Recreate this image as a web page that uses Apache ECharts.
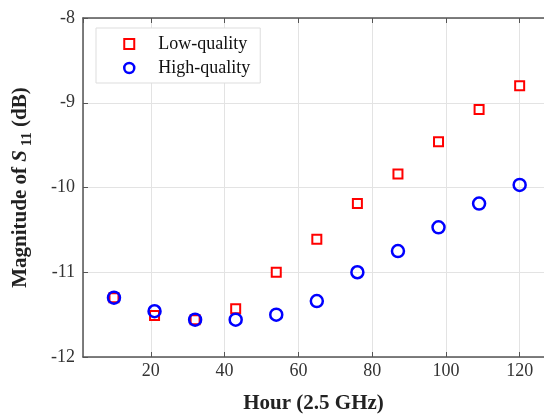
<!DOCTYPE html>
<html>
<head>
<meta charset="utf-8">
<script src="https://cdn.jsdelivr.net/npm/echarts@6/dist/echarts.min.js"></script>
<style>html,body{margin:0;padding:0;background:#fff}#c{width:544px;height:419px}</style>
</head>
<body>
<div id="c"></div>
<script>
var hours = [10, 21, 32, 43, 54, 65, 76, 87, 98, 109, 120];
var lowQuality = [-11.30, -11.51, -11.56, -11.43, -11.00, -10.61, -10.19, -9.84, -9.46, -9.08, -8.80];
var highQuality = [-11.30, -11.46, -11.56, -11.56, -11.50, -11.34, -11.00, -10.75, -10.47, -10.19, -9.97];
var seriesNames = ['Low-quality', 'High-quality'];
var xTitle = 'Hour (2.5 GHz)';

function pairs(xs, ys) { return xs.map(function (x, i) { return [x, ys[i]]; }); }

var font = 'Liberation Serif, Times New Roman, serif';
var chart = echarts.init(document.getElementById('c'), null, { renderer: 'canvas' });
var axisLineCol = '#555';
var squarePath = 'path://M0,0L10,0L10,10L0,10Z';
chart.setOption({
  animation: false,
  backgroundColor: '#fff',
  grid: { left: 83, right: -5, top: 18, bottom: 61, containLabel: false },
  legend: {
    orient: 'vertical', left: 96, top: 28,
    padding: [7, 10, 6, 27],
    itemGap: 6, itemWidth: 48, itemHeight: 10,
    borderColor: '#ddd', borderWidth: 1, backgroundColor: '#fff',
    textStyle: { fontFamily: font, fontSize: 18, color: '#111' },
    data: [
      { name: seriesNames[0], icon: squarePath, itemStyle: { color: '#fff', borderColor: '#ff0000', borderWidth: 2, opacity: 1 } },
      { name: seriesNames[1], icon: 'circle', itemStyle: { color: '#fff', borderColor: '#0000ff', borderWidth: 2.5, opacity: 1 } }
    ]
  },
  xAxis: [{
    type: 'value', min: 1.6, max: 126.6, splitNumber: 6,
    axisLine: { show: true, lineStyle: { color: axisLineCol, width: 1.5 } },
    axisTick: { show: true, inside: true, length: 5, lineStyle: { color: axisLineCol } },
    axisLabel: { showMinLabel: false, showMaxLabel: false, fontFamily: font, fontSize: 18, color: '#333', margin: 5 },
    splitLine: { show: true, lineStyle: { color: '#e3e3e3', width: 1 } },
    name: xTitle, nameLocation: 'middle', nameGap: 36,
    nameTextStyle: { fontFamily: font, fontSize: 21, fontWeight: 'bold', color: '#222' }
  }, {
    type: 'value', position: 'top', min: 1.6, max: 126.6, splitNumber: 6,
    axisLine: { show: true, lineStyle: { color: axisLineCol, width: 1.5 } },
    axisTick: { show: true, inside: true, length: 5, lineStyle: { color: axisLineCol } },
    axisLabel: { show: false }, splitLine: { show: false }
  }],
  yAxis: [{
    type: 'value', min: -12, max: -8, interval: 1,
    axisLine: { show: true, lineStyle: { color: axisLineCol, width: 1.5 } },
    axisTick: { show: true, inside: true, length: 5, lineStyle: { color: axisLineCol } },
    axisLabel: { fontFamily: font, fontSize: 18, color: '#333', margin: 8 },
    splitLine: { show: true, lineStyle: { color: '#e3e3e3', width: 1 } },
    name: '{t|Magnitude of }{s|S}{sub| 11}{t| (dB)}', nameLocation: 'middle', nameGap: 48, nameRotate: 90,
    nameTextStyle: {
      fontFamily: font, fontSize: 21, fontWeight: 'bold', color: '#222',
      rich: {
        t: { fontFamily: font, fontSize: 21, fontWeight: 'bold', color: '#222', lineHeight: 28, verticalAlign: 'middle' },
        s: { fontFamily: font, fontSize: 21, fontWeight: 'bold', fontStyle: 'italic', color: '#222', lineHeight: 28, verticalAlign: 'middle' },
        sub: { fontFamily: font, fontSize: 15, fontWeight: 'bold', color: '#222', lineHeight: 28, verticalAlign: 'bottom', padding: [6, 0, 0, 0] }
      }
    }
  }],
  series: [{
    name: seriesNames[0], type: 'scatter', symbol: 'rect', symbolSize: 9,
    itemStyle: { color: '#fff', borderColor: '#ff0000', borderWidth: 2, opacity: 1 },
    data: pairs(hours, lowQuality), z: 3
  }, {
    name: seriesNames[1], type: 'scatter', symbol: 'circle', symbolSize: 12,
    itemStyle: { color: 'rgba(255,255,255,0)', borderColor: '#0000ff', borderWidth: 2.5, opacity: 1 },
    data: pairs(hours, highQuality), z: 4
  }]
});
</script>
</body>
</html>
